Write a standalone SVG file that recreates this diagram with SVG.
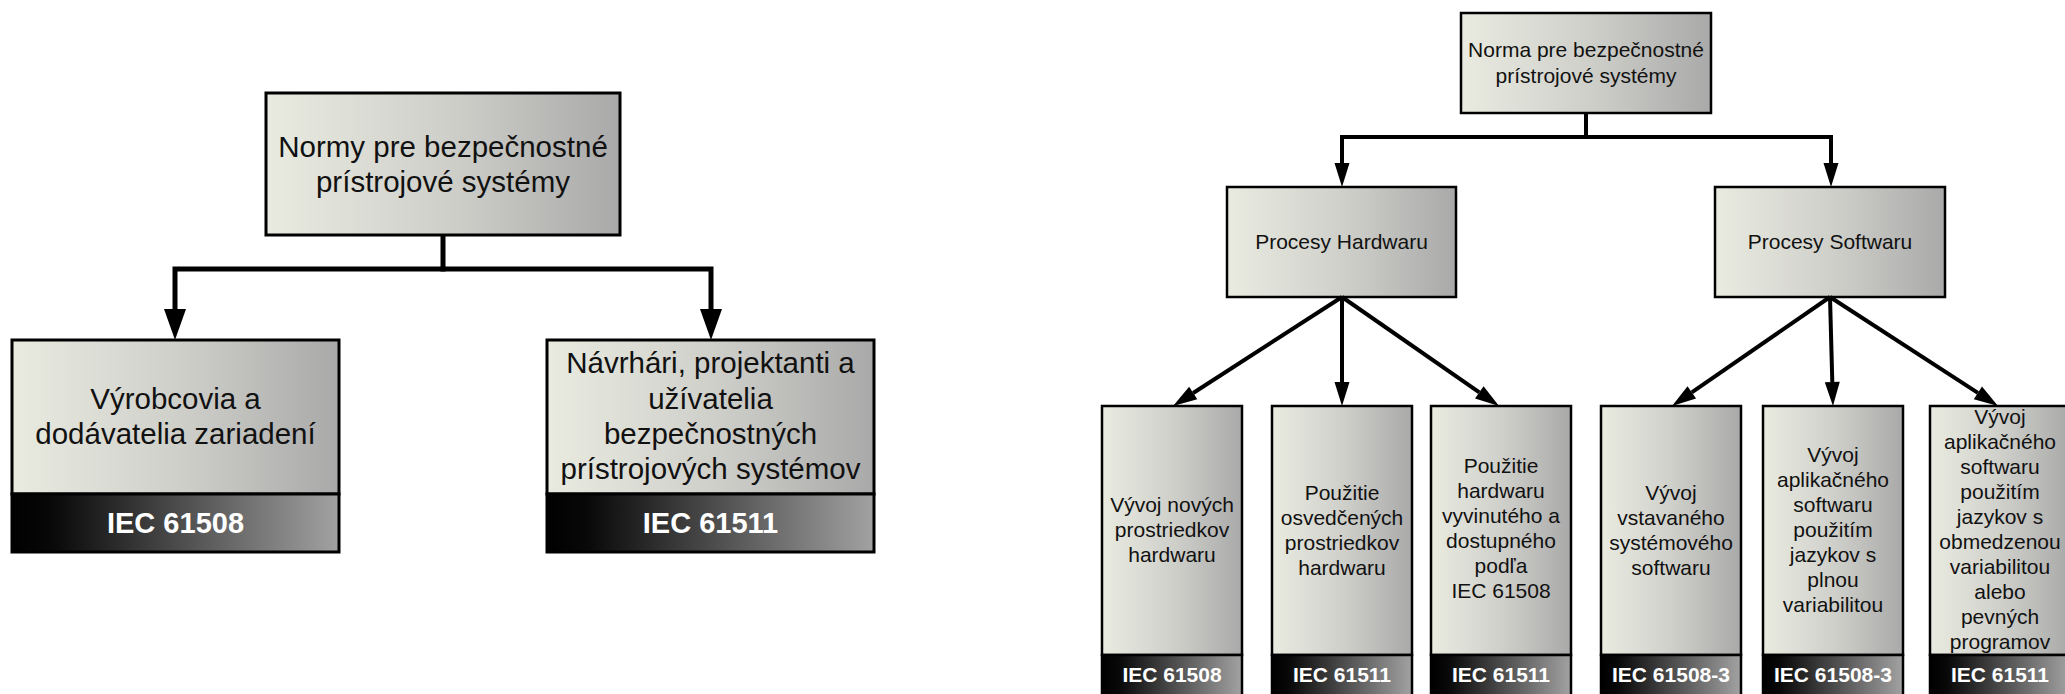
<svg xmlns="http://www.w3.org/2000/svg" width="2065" height="694" viewBox="0 0 2065 694">
<defs>
<linearGradient id="boxFill" x1="0" y1="0" x2="1" y2="0">
<stop offset="0" stop-color="#e9ebe0"/>
<stop offset="0.5" stop-color="#d0d0cb"/>
<stop offset="1" stop-color="#a9a9a9"/>
</linearGradient>
<linearGradient id="bandFill" x1="0" y1="0" x2="1" y2="0">
<stop offset="0" stop-color="#000000"/>
<stop offset="0.12" stop-color="#080808"/>
<stop offset="1" stop-color="#a2a2a2"/>
</linearGradient>
<marker id="arrowBig" markerUnits="userSpaceOnUse" markerWidth="31" markerHeight="22" refX="0" refY="11" orient="auto" overflow="visible">
<path d="M0,0 L31,11 L0,22 Z" fill="#000"/>
</marker>
<marker id="arrowSmall" markerUnits="userSpaceOnUse" markerWidth="24" markerHeight="15" refX="0" refY="7.5" orient="auto" overflow="visible">
<path d="M0,0 L24,7.5 L0,15 Z" fill="#000"/>
</marker>
</defs>
<style>
.box{fill:url(#boxFill);stroke:#000;}
.band{fill:url(#bandFill);stroke:#000;}
.L .box,.L .band{stroke-width:3;}
.R .box,.R .band{stroke-width:2.5;}
text{font-family:"Liberation Sans",Arial,sans-serif;text-anchor:middle;}
.tL{font-size:29.5px;fill:#111;}
.bL{font-size:29px;font-weight:bold;fill:#fff;}
.tR{font-size:21px;fill:#111;}
.bR{font-size:21px;font-weight:bold;fill:#fff;}
.conL{fill:none;stroke:#000;stroke-width:5;}
.conR{fill:none;stroke:#000;stroke-width:4;}
</style>

<g class="L">
<g id="normy">
<rect class="box" x="266" y="93" width="354" height="142"/>
<text class="tL" x="443" y="157">Normy pre bezpečnostné</text>
<text class="tL" x="443" y="192">prístrojové systémy</text>
</g>
<g id="vyrobcovia">
<rect class="box" x="12" y="340" width="327" height="154"/>
<text class="tL" x="175.5" y="409">Výrobcovia a</text>
<text class="tL" x="175.5" y="444">dodávatelia zariadení</text>
<rect class="band" x="12" y="494" width="327" height="58"/>
<text class="bL" x="175.5" y="533">IEC 61508</text>
</g>
<g id="navrhari">
<rect class="box" x="547" y="340" width="327" height="154"/>
<text class="tL" x="710.5" y="373">Návrhári, projektanti a</text>
<text class="tL" x="710.5" y="409">užívatelia</text>
<text class="tL" x="710.5" y="444">bezpečnostných</text>
<text class="tL" x="710.5" y="479">prístrojových systémov</text>
<rect class="band" x="547" y="494" width="327" height="58"/>
<text class="bL" x="710.5" y="533">IEC 61511</text>
</g>
</g>

<g class="R">
<g id="norma">
<rect class="box" x="1461" y="13" width="250" height="100"/>
<text class="tR" x="1586" y="57">Norma pre bezpečnostné</text>
<text class="tR" x="1586" y="83">prístrojové systémy</text>
</g>
<g id="hw">
<rect class="box" x="1227" y="187" width="229" height="110"/>
<text class="tR" x="1341.5" y="249">Procesy Hardwaru</text>
</g>
<g id="sw">
<rect class="box" x="1715" y="187" width="230" height="110"/>
<text class="tR" x="1830" y="249">Procesy Softwaru</text>
</g>
<g id="hw1">
<rect class="box" x="1102" y="406" width="140" height="249"/>
<text class="tR" x="1172" y="512">Vývoj nových</text>
<text class="tR" x="1172" y="537">prostriedkov</text>
<text class="tR" x="1172" y="562">hardwaru</text>
<rect class="band" x="1102" y="655" width="140" height="42"/>
<text class="bR" x="1172" y="682">IEC 61508</text>
</g>
<g id="hw2">
<rect class="box" x="1272" y="406" width="140" height="249"/>
<text class="tR" x="1342" y="500">Použitie</text>
<text class="tR" x="1342" y="525">osvedčených</text>
<text class="tR" x="1342" y="550">prostriedkov</text>
<text class="tR" x="1342" y="575">hardwaru</text>
<rect class="band" x="1272" y="655" width="140" height="42"/>
<text class="bR" x="1342" y="682">IEC 61511</text>
</g>
<g id="hw3">
<rect class="box" x="1431" y="406" width="140" height="249"/>
<text class="tR" x="1501" y="473">Použitie</text>
<text class="tR" x="1501" y="498">hardwaru</text>
<text class="tR" x="1501" y="523">vyvinutého a</text>
<text class="tR" x="1501" y="548">dostupného</text>
<text class="tR" x="1501" y="573">podľa</text>
<text class="tR" x="1501" y="598">IEC 61508</text>
<rect class="band" x="1431" y="655" width="140" height="42"/>
<text class="bR" x="1501" y="682">IEC 61511</text>
</g>
<g id="sw1">
<rect class="box" x="1601" y="406" width="140" height="249"/>
<text class="tR" x="1671" y="500">Vývoj</text>
<text class="tR" x="1671" y="525">vstavaného</text>
<text class="tR" x="1671" y="550">systémového</text>
<text class="tR" x="1671" y="575">softwaru</text>
<rect class="band" x="1601" y="655" width="140" height="42"/>
<text class="bR" x="1671" y="682">IEC 61508-3</text>
</g>
<g id="sw2">
<rect class="box" x="1763" y="406" width="140" height="249"/>
<text class="tR" x="1833" y="462">Vývoj</text>
<text class="tR" x="1833" y="487">aplikačného</text>
<text class="tR" x="1833" y="512">softwaru</text>
<text class="tR" x="1833" y="537">použitím</text>
<text class="tR" x="1833" y="562">jazykov s</text>
<text class="tR" x="1833" y="587">plnou</text>
<text class="tR" x="1833" y="612">variabilitou</text>
<rect class="band" x="1763" y="655" width="140" height="42"/>
<text class="bR" x="1833" y="682">IEC 61508-3</text>
</g>
<g id="sw3">
<rect class="box" x="1930" y="406" width="140" height="249"/>
<text class="tR" x="2000" y="424">Vývoj</text>
<text class="tR" x="2000" y="449">aplikačného</text>
<text class="tR" x="2000" y="474">softwaru</text>
<text class="tR" x="2000" y="499">použitím</text>
<text class="tR" x="2000" y="524">jazykov s</text>
<text class="tR" x="2000" y="549">obmedzenou</text>
<text class="tR" x="2000" y="574">variabilitou</text>
<text class="tR" x="2000" y="599">alebo</text>
<text class="tR" x="2000" y="624">pevných</text>
<text class="tR" x="2000" y="649">programov</text>
<rect class="band" x="1930" y="655" width="140" height="42"/>
<text class="bR" x="2000" y="682">IEC 61511</text>
</g>
</g>

<g id="connectors">
<path class="conL" d="M443,235 V269"/>
<path class="conL" d="M445.5,269 H175 V309" marker-end="url(#arrowBig)"/>
<path class="conL" d="M440.5,269 H711 V309" marker-end="url(#arrowBig)"/>
<path class="conR" d="M1586,113 V137"/>
<path class="conR" d="M1588,137 H1342 V163" marker-end="url(#arrowSmall)"/>
<path class="conR" d="M1584,137 H1831 V163" marker-end="url(#arrowSmall)"/>
<path class="conR" d="M1342,297 L1193.2,393" marker-end="url(#arrowSmall)"/>
<path class="conR" d="M1342,297 V382" marker-end="url(#arrowSmall)"/>
<path class="conR" d="M1342,297 L1479.3,392.3" marker-end="url(#arrowSmall)"/>
<path class="conR" d="M1830,297 L1691.8,392.4" marker-end="url(#arrowSmall)"/>
<path class="conR" d="M1830,297 L1832.3,382" marker-end="url(#arrowSmall)"/>
<path class="conR" d="M1830,297 L1977.9,392.9" marker-end="url(#arrowSmall)"/>
</g>
</svg>
